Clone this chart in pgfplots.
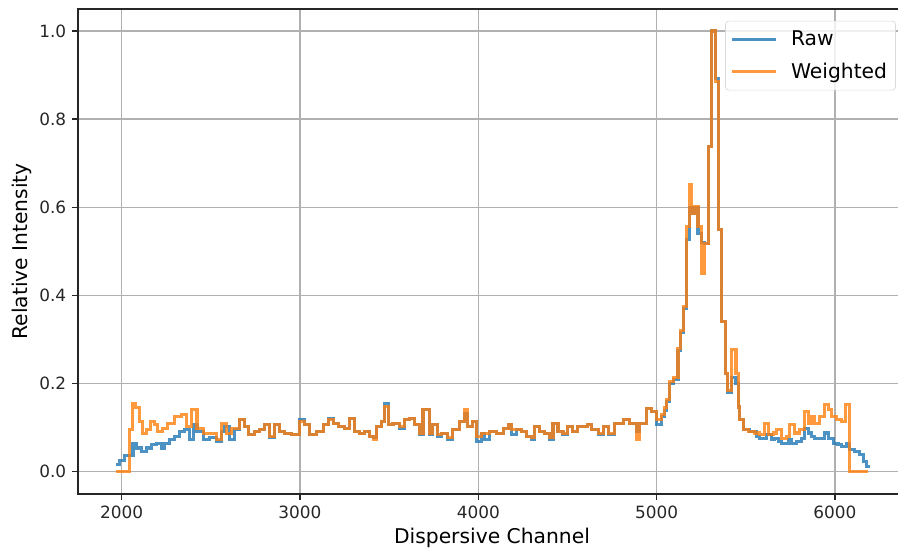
\documentclass[border=0pt]{standalone}
\usepackage{pgfplots}
\pgfplotsset{compat=1.18}
\usepackage{fontspec}
\setmainfont{DejaVu Sans}
\definecolor{tabblue}{RGB}{31,119,180}
\definecolor{taborange}{RGB}{255,127,14}
\definecolor{gridgray}{RGB}{176,176,176}
\begin{document}
\begin{tikzpicture}
\begin{axis}[
  scale only axis,
  width=490pt, height=287pt,
  xmin=1756, xmax=6398, ymin=-0.05, ymax=1.05,
  xtick={2000,3000,4000,5000,6000},
  ytick={0,0.2,0.4,0.6,0.8,1.0},
  /pgf/number format/assume math mode=true,
  /pgf/number format/1000 sep={},
  yticklabel style={/pgf/number format/fixed, /pgf/number format/fixed zerofill, /pgf/number format/precision=1},
  tick label style={font=\fontsize{10}{12}\selectfont, color=black!85},
  xtick pos=bottom, ytick pos=left,
  tick align=outside, major tick length=3.5pt,
  tick style={black!85, line width=0.8pt},
  axis line style={black!85, line width=0.8pt},
  grid=major, grid style={gridgray, line width=0.8pt},
  xlabel={Dispersive Channel}, ylabel={Relative Intensity},
  every axis x label/.style={at={(axis description cs:0.5,-0.0906)}, anchor=center, font=\fontsize{12}{14}\selectfont},
  every axis y label/.style={at={(axis description cs:-0.0673,0.5)}, rotate=90, anchor=center, font=\fontsize{12}{14}\selectfont},
  legend style={at={(1,1)}, anchor=north east, xshift=-6pt, yshift=-7pt,
    draw=black!15, rounded corners=2pt, fill=white, fill opacity=0.8, text opacity=1, draw opacity=1,
    font=\fontsize{12}{14}\selectfont, cells={anchor=west}, inner xsep=3pt, inner ysep=3.5pt,
    row sep=5pt},
  legend image code/.code={\draw[#1, line width=1.8pt] (0pt,0pt) -- (26pt,0pt); \path (32pt,0pt);},
]
% raw spectrum
\addplot[const plot, tabblue, line width=1.8pt, opacity=0.8] coordinates {
(1970,0.016)(1989,0.025)(2017,0.037)(2064,0.065)(2083,0.054)(2111,0.046)(2139,0.054)(2167,0.061)
(2195,0.065)(2223,0.054)(2242,0.065)(2270,0.073)(2298,0.080)(2326,0.091)(2354,0.097)(2382,0.073)
(2401,0.107)(2423,0.091)(2457,0.073)(2494,0.077)(2531,0.069)(2559,0.091)(2578,0.103)(2606,0.073)
(2634,0.095)(2662,0.118)(2690,0.103)(2709,0.084)(2746,0.091)(2774,0.095)(2802,0.107)(2830,0.077)
(2858,0.107)(2886,0.091)(2914,0.087)(2952,0.084)(2999,0.118)(3027,0.107)(3055,0.084)(3092,0.091)
(3130,0.107)(3158,0.122)(3186,0.110)(3214,0.103)(3251,0.099)(3279,0.122)(3307,0.091)(3335,0.087)
(3363,0.091)(3391,0.080)(3410,0.077)(3428,0.103)(3456,0.114)(3475,0.156)(3494,0.107)(3522,0.110)
(3559,0.099)(3587,0.118)(3615,0.122)(3643,0.107)(3671,0.084)(3690,0.141)(3727,0.084)(3746,0.107)
(3774,0.080)(3793,0.087)(3830,0.074)(3858,0.095)(3896,0.114)(3924,0.133)(3942,0.103)(3970,0.114)
(3989,0.069)(4017,0.087)(4036,0.073)(4064,0.091)(4101,0.087)(4139,0.099)(4167,0.107)(4185,0.084)
(4213,0.095)(4241,0.091)(4269,0.080)(4297,0.074)(4316,0.103)(4344,0.091)(4372,0.087)(4400,0.074)
(4419,0.110)(4447,0.091)(4475,0.084)(4503,0.103)(4531,0.091)(4559,0.103)(4615,0.107)(4634,0.095)
(4672,0.084)(4700,0.103)(4728,0.084)(4765,0.110)(4812,0.118)(4850,0.110)(4887,0.092)(4906,0.110)
(4943,0.144)(4971,0.137)(4999,0.107)(5027,0.125)(5045,0.140)(5058,0.160)(5074,0.200)(5092,0.210)
(5120,0.275)(5135,0.315)(5150,0.370)(5167,0.526)(5182,0.600)(5198,0.587)(5214,0.600)(5232,0.541)
(5251,0.520)(5270,0.518)(5292,0.738)(5307,1.000)(5331,0.893)(5345,0.549)(5365,0.341)(5385,0.224)
(5398,0.180)(5420,0.215)(5445,0.200)(5458,0.147)(5466,0.118)(5485,0.095)(5522,0.091)(5559,0.080)
(5578,0.076)(5616,0.084)(5644,0.073)(5662,0.076)(5681,0.069)(5700,0.065)(5737,0.073)(5756,0.065)
(5784,0.069)(5812,0.076)(5831,0.099)(5849,0.088)(5868,0.080)(5887,0.076)(5943,0.088)(5962,0.076)
(5990,0.065)(6017,0.061)(6036,0.058)(6064,0.065)(6083,0.050)(6111,0.046)(6139,0.039)(6158,0.024)
(6177,0.012)(6195,0.012)
};
\addlegendentry{Raw}
% weighted spectrum
\addplot[const plot, taborange, line width=1.8pt, opacity=0.8] coordinates {
(1970,0)(2045,0.095)(2060,0.156)(2079,0.145)(2098,0.114)(2116,0.087)(2139,0.095)(2161,0.114)
(2185,0.107)(2204,0.091)(2232,0.099)(2260,0.110)(2298,0.126)(2335,0.129)(2363,0.103)(2391,0.141)
(2423,0.099)(2457,0.087)(2531,0.073)(2559,0.110)(2588,0.087)(2616,0.099)(2662,0.118)(2690,0.103)
(2709,0.084)(2746,0.091)(2774,0.095)(2802,0.107)(2830,0.080)(2858,0.107)(2886,0.091)(2914,0.087)
(2952,0.084)(2999,0.114)(3027,0.107)(3055,0.084)(3092,0.091)(3130,0.107)(3158,0.118)(3186,0.110)
(3214,0.103)(3251,0.099)(3279,0.122)(3307,0.091)(3335,0.087)(3363,0.091)(3391,0.080)(3410,0.073)
(3428,0.103)(3456,0.114)(3475,0.148)(3494,0.107)(3522,0.110)(3559,0.103)(3587,0.118)(3615,0.122)
(3643,0.107)(3671,0.087)(3690,0.141)(3727,0.087)(3746,0.107)(3774,0.084)(3793,0.087)(3830,0.077)
(3858,0.095)(3896,0.114)(3924,0.141)(3942,0.103)(3970,0.114)(3989,0.080)(4017,0.087)(4036,0.087)
(4064,0.091)(4101,0.087)(4139,0.099)(4167,0.107)(4185,0.095)(4213,0.095)(4241,0.091)(4269,0.080)
(4297,0.077)(4316,0.103)(4344,0.091)(4372,0.087)(4400,0.077)(4419,0.110)(4447,0.091)(4475,0.087)
(4503,0.103)(4531,0.091)(4559,0.103)(4615,0.107)(4634,0.095)(4672,0.087)(4700,0.103)(4728,0.087)
(4765,0.110)(4812,0.118)(4850,0.110)(4887,0.073)(4906,0.110)(4943,0.144)(4971,0.137)(4999,0.118)
(5027,0.130)(5045,0.145)(5058,0.165)(5074,0.205)(5092,0.213)(5120,0.280)(5135,0.321)(5150,0.375)
(5167,0.556)(5182,0.652)(5198,0.587)(5214,0.602)(5232,0.556)(5251,0.450)(5270,0.518)(5292,0.738)
(5307,1.000)(5331,0.886)(5345,0.549)(5365,0.341)(5385,0.224)(5398,0.185)(5420,0.277)(5445,0.224)
(5458,0.147)(5466,0.118)(5485,0.095)(5513,0.091)(5550,0.088)(5578,0.084)(5606,0.110)(5625,0.084)
(5653,0.088)(5672,0.095)(5700,0.076)(5728,0.080)(5746,0.107)(5774,0.088)(5802,0.095)(5831,0.137)
(5849,0.110)(5868,0.125)(5887,0.110)(5915,0.125)(5943,0.152)(5962,0.141)(5980,0.125)(6008,0.118)
(6036,0.114)(6061,0.152)(6079,0)(6186,0)
};
\addlegendentry{Weighted}
\end{axis}
\pgfresetboundingbox
\path[use as bounding box] ([xshift=-46.2pt,yshift=-33.7pt]current axis.south west)
  rectangle ([xshift=-4.7pt,yshift=5.3pt]current axis.north east);
\end{tikzpicture}
\end{document}
